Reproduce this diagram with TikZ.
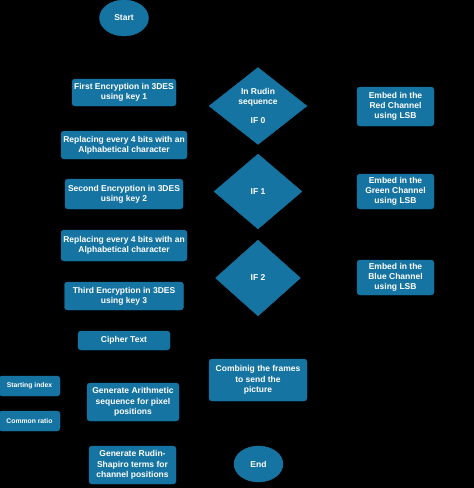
\documentclass[tikz,border=0pt]{standalone}
\usepackage{fontspec}
\setmainfont{Liberation Sans}
\usetikzlibrary{shapes.geometric}

\definecolor{flowblue}{RGB}{22,116,162}

\tikzset{
  proc/.style = {draw=flowblue, fill=flowblue, rounded corners=3pt, text=white,
                 font=\fontsize{8.5}{10.3}\selectfont\bfseries, align=center,
                 inner sep=1pt},
  smallproc/.style = {proc, font=\fontsize{6.8}{8}\selectfont\bfseries},
  decide/.style = {diamond, draw=flowblue, fill=flowblue, text=white,
                   font=\fontsize{8.5}{10.3}\selectfont\bfseries, align=center,
                   inner sep=0pt},
  term/.style = {ellipse, draw=flowblue, fill=flowblue, text=white,
                 font=\fontsize{8.5}{10.3}\selectfont\bfseries, inner sep=0pt}
}

\begin{document}
\begin{tikzpicture}[x=1pt, y=-1pt]

  \fill[black] (0,0) rectangle (474,488);
  \useasboundingbox (0,0) rectangle (474,488);

  % left column
  \node [term, minimum width=49pt, minimum height=36pt] (start) at (124,18) {Start};
  \node [proc, minimum width=104pt, minimum height=27pt] (enc1) at (124,92.5) {First Encryption in 3DES\\using key 1};
  \node [proc, minimum width=126pt, minimum height=28pt] (rep1) at (124,145) {Replacing every 4 bits with an\\Alphabetical character};
  \node [proc, minimum width=118pt, minimum height=30pt] (enc2) at (124,194) {Second Encryption in 3DES\\using key 2};
  \node [proc, minimum width=126pt, minimum height=31pt] (rep2) at (124,245.5) {Replacing every 4 bits with an\\Alphabetical character};
  \node [proc, minimum width=119pt, minimum height=28pt] (enc3) at (124,296) {Third Encryption in 3DES\\using key 3};
  \node [proc, minimum width=92pt, minimum height=19pt] (cipher) at (124,340.5) {Cipher Text};

  % position generators
  \node [smallproc, minimum width=61pt, minimum height=20pt] (sindex) at (29.5,386) {Starting index};
  \node [smallproc, minimum width=61pt, minimum height=20pt] (cratio) at (29.5,421) {Common ratio};
  \node [proc, minimum width=92pt, minimum height=38pt] (arith) at (133,402) {Generate Arithmetic\\sequence for pixel\\positions};
  \node [proc, minimum width=87pt, minimum height=38pt] (rudin) at (132.5,465) {Generate Rudin-\\Shapiro terms for\\channel positions};

  % decisions
  \node [decide, minimum width=98pt, minimum height=77pt] (if0) at (258,106) {In Rudin\\sequence\\[9pt]IF 0};
  \node [decide, minimum width=88pt, minimum height=75pt] (if1) at (258,191.5) {IF 1};
  \node [decide, minimum width=85pt, minimum height=76pt] (if2) at (258,278) {IF 2};

  % embedding
  \node [proc, minimum width=77pt, minimum height=39pt] (red) at (395.5,106.5) {Embed in the\\Red Channel\\using LSB};
  \node [proc, minimum width=77pt, minimum height=35pt] (green) at (395.5,191.5) {Embed in the\\Green Channel\\using LSB};
  \node [proc, minimum width=77pt, minimum height=35pt] (blue) at (395.5,277.5) {Embed in the\\Blue Channel\\using LSB};

  \node [proc, minimum width=98pt, minimum height=42pt] (combine) at (258,380) {Combinig the frames\\to send the\\picture};
  \node [term, minimum width=49pt, minimum height=36pt] (stop) at (258.5,464) {End};

\end{tikzpicture}
\end{document}
